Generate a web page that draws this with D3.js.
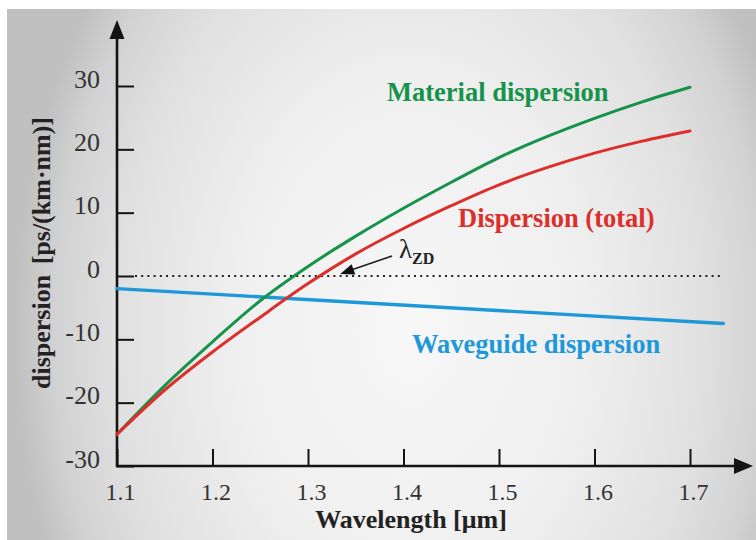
<!DOCTYPE html>
<html>
<head>
<meta charset="utf-8">
<script src="https://cdn.jsdelivr.net/npm/d3@7"></script>
<style>
  html, body { margin: 0; padding: 0; background: #ffffff; }
  svg { display: block; }
</style>
</head>
<body>
<svg id="chart" width="756" height="540" font-family="Liberation Serif, Times New Roman, serif"></svg>
<script>
// Wavelength samples (µm) and dispersion values (ps/(km·nm))
const wavelength = [1.10, 1.15, 1.20, 1.25, 1.30, 1.35, 1.40, 1.45, 1.50, 1.55, 1.60, 1.65, 1.70];
const materialDispersion = [-25.0, -17.3, -10.4, -3.9, 1.5, 6.3, 10.7, 14.8, 18.7, 22.0, 24.9, 27.5, 29.8];
const totalDispersion    = [-25.0, -18.0, -12.0, -6.5, -1.2, 3.5, 7.5, 11.1, 14.4, 17.1, 19.4, 21.3, 22.9];

// Waveguide dispersion is nearly linear over the band
const waveguideWavelength = [1.10, 1.735];
const waveguideDispersion = [-2.0, -7.5];

// Axis ticks
const xTicks = [1.1, 1.2, 1.3, 1.4, 1.5, 1.6, 1.7];
const xTickLabels = ["1.1", "1.2", "1.3", "1.4", "1.5", "1.6", "1.7"];
const yTicks = [-30, -20, -10, 0, 10, 20, 30];
const yTickLabels = ["-30", "-20", "-10", "0", "10", "20", "30"];

// Zero-dispersion wavelength marker
const zeroDispersionWavelength = 1.3128;

const serif = "Liberation Serif, Times New Roman, serif";
const svg = d3.select("#chart");

// Soft grey backdrop, lighter toward the middle
const defs = svg.append("defs");
const grad = defs.append("radialGradient")
  .attr("id", "bg")
  .attr("gradientUnits", "userSpaceOnUse")
  .attr("cx", 0).attr("cy", 0).attr("r", 1)
  .attr("gradientTransform", "translate(410,330) scale(395,560)");
[[0, "#f7f7f7"], [0.45, "#efefef"], [0.75, "#e0e0e0"], [0.9, "#d2d2d2"], [1, "#c0c0c0"]]
  .forEach(([o, c]) => grad.append("stop").attr("offset", o).attr("stop-color", c));

svg.append("rect")
  .attr("x", 7).attr("y", 9).attr("width", 749).attr("height", 531)
  .attr("fill", "url(#bg)");

const x = d3.scaleLinear().domain([1.1, 1.7]).range([117, 690]);
const y = d3.scaleLinear().domain([-30, 30]).range([466, 86]);

const xEnd = 753;     // tip of the wavelength arrow
const yEnd = 20;      // tip of the dispersion arrow
const axisColor = "#141414";

// Zero-dispersion reference line (dotted)
svg.append("line")
  .attr("x1", x(1.1) + 18).attr("x2", x(1.735))
  .attr("y1", y(0)).attr("y2", y(0))
  .attr("stroke", "#222").attr("stroke-width", 2)
  .attr("stroke-dasharray", "2,4.2");

// Y axis ticks and labels
const yAxis = d3.axisLeft(y)
  .tickValues(yTicks)
  .tickFormat((d, i) => yTickLabels[i])
  .tickSizeInner(-17)
  .tickSizeOuter(0)
  .tickPadding(17);
const gy = svg.append("g").attr("transform", `translate(${x(1.1)},0)`).call(yAxis)
  .attr("font-family", serif)
  .attr("font-size", 26);
gy.select(".domain").remove();
gy.selectAll(".tick line").attr("stroke", axisColor).attr("stroke-width", 2);
gy.selectAll(".tick text")
  .attr("dy", "0.04em")
  .attr("fill", "#333");

// X axis ticks and labels
const xAxis = d3.axisBottom(x)
  .tickValues(xTicks)
  .tickFormat((d, i) => xTickLabels[i])
  .tickSizeInner(-17)
  .tickSizeOuter(0)
  .tickPadding(0);
const gx = svg.append("g").attr("transform", `translate(0,${y(-30)})`).call(xAxis)
  .attr("font-family", serif)
  .attr("font-size", 24);
gx.select(".domain").remove();
gx.selectAll(".tick line").attr("stroke", axisColor).attr("stroke-width", 2);
gx.selectAll(".tick text")
  .attr("x", 3)
  .attr("y", 34)
  .attr("dy", 0)
  .attr("fill", "#333");

// Axis lines with arrowheads
svg.append("line")
  .attr("x1", x(1.1)).attr("x2", xEnd - 14)
  .attr("y1", y(-30)).attr("y2", y(-30))
  .attr("stroke", axisColor).attr("stroke-width", 2.6);
svg.append("path")
  .attr("d", `M${xEnd},${y(-30)} L${xEnd - 19},${y(-30) - 8} L${xEnd - 19},${y(-30) + 8} Z`)
  .attr("fill", axisColor);

svg.append("line")
  .attr("x1", x(1.1)).attr("x2", x(1.1))
  .attr("y1", y(-30) + 1.3).attr("y2", yEnd + 14)
  .attr("stroke", axisColor).attr("stroke-width", 2.6);
svg.append("path")
  .attr("d", `M${x(1.1)},${yEnd} L${x(1.1) - 7.5},${yEnd + 19} L${x(1.1) + 7.5},${yEnd + 19} Z`)
  .attr("fill", axisColor);

// Curves
const line = d3.line()
  .x(d => x(d[0]))
  .y(d => y(d[1]))
  .curve(d3.curveCatmullRom.alpha(0.5));

const series = [
  { name: "waveguide", xs: waveguideWavelength, ys: waveguideDispersion, color: "#1e98d8", width: 3.4 },
  { name: "material", xs: wavelength, ys: materialDispersion, color: "#16934a", width: 3 },
  { name: "total", xs: wavelength, ys: totalDispersion, color: "#dc2f2c", width: 3 }
];

svg.append("g").selectAll("path")
  .data(series)
  .join("path")
  .attr("d", s => line(s.xs.map((v, i) => [v, s.ys[i]])))
  .attr("fill", "none")
  .attr("stroke", s => s.color)
  .attr("stroke-width", s => s.width)
  .attr("stroke-linecap", "round");

// Curve labels
const labels = [
  { text: "Material dispersion", color: "#16934a", x: 387, y: 101 },
  { text: "Dispersion (total)", color: "#dc2f2c", x: 458, y: 227 },
  { text: "Waveguide dispersion", color: "#1e98d8", x: 412, y: 353 }
];
svg.append("g").selectAll("text")
  .data(labels)
  .join("text")
  .attr("x", d => d.x).attr("y", d => d.y)
  .attr("fill", d => d.color)
  .attr("font-family", serif)
  .attr("font-size", 26.5)
  .attr("font-weight", "bold")
  .text(d => d.text);

// Zero-dispersion wavelength annotation
const zx = x(zeroDispersionWavelength) + 20;
const zy = y(0) - 2;
svg.append("line")
  .attr("x1", 392).attr("y1", 256)
  .attr("x2", zx + 8).attr("y2", zy - 3)
  .attr("stroke", "#222").attr("stroke-width", 1.8);
svg.append("path")
  .attr("d", () => {
    const ang = Math.atan2(256 - zy, 392 - zx);
    const len = 14, half = 5.5;
    const bx = zx + len * Math.cos(ang), by = zy + len * Math.sin(ang);
    const px = -Math.sin(ang) * half, py = Math.cos(ang) * half;
    return `M${zx},${zy} L${bx + px},${by + py} L${bx - px},${by - py} Z`;
  })
  .attr("fill", "#111");

const lam = svg.append("text").attr("x", 399).attr("y", 258).attr("fill", "#222")
  .attr("font-family", serif);
lam.append("tspan").attr("font-size", 27).text("λ");
lam.append("tspan").attr("dy", 6).attr("font-size", 16).attr("font-weight", "bold").text("ZD");

// Axis titles
svg.append("text")
  .attr("x", 411).attr("y", 528)
  .attr("text-anchor", "middle")
  .attr("fill", "#222")
  .attr("font-family", serif)
  .attr("font-size", 26)
  .attr("font-weight", "bold")
  .text("Wavelength [μm]");

svg.append("text")
  .attr("transform", "translate(50,253) rotate(-90)")
  .attr("text-anchor", "middle")
  .attr("fill", "#222")
  .attr("font-family", serif)
  .attr("font-size", 26)
  .attr("font-weight", "bold")
  .attr("word-spacing", 4)
  .text("dispersion [ps/(km·nm)]");
</script>
</body>
</html>
